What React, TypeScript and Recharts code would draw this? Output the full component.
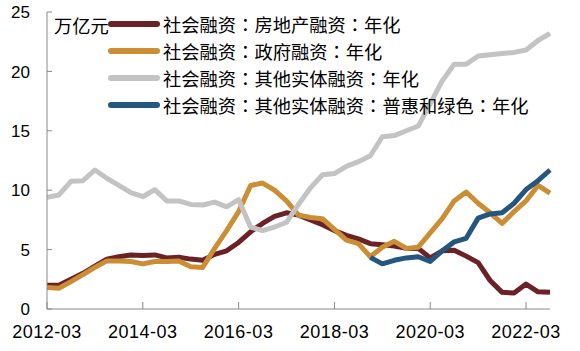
import { LineChart, Line, XAxis, YAxis } from 'recharts';

const quarters = [
  '2012-03', '2012-06', '2012-09', '2012-12',
  '2013-03', '2013-06', '2013-09', '2013-12',
  '2014-03', '2014-06', '2014-09', '2014-12',
  '2015-03', '2015-06', '2015-09', '2015-12',
  '2016-03', '2016-06', '2016-09', '2016-12',
  '2017-03', '2017-06', '2017-09', '2017-12',
  '2018-03', '2018-06', '2018-09', '2018-12',
  '2019-03', '2019-06', '2019-09', '2019-12',
  '2020-03', '2020-06', '2020-09', '2020-12',
  '2021-03', '2021-06', '2021-09', '2021-12',
  '2022-03', '2022-06', '2022-09',
];

// 万亿元，年化
const realEstate = [
  2.0, 2.0, 2.5, 3.0, 3.6, 4.2, 4.4, 4.55, 4.5, 4.55, 4.3, 4.35, 4.2, 4.1,
  4.6, 4.9, 5.6, 6.5, 7.2, 7.8, 8.1, 7.9, 7.5, 7.1, 6.6, 6.2, 5.9, 5.5,
  5.4, 5.3, 5.1, 5.1, 4.3, 4.9, 4.95, 4.45, 3.9, 2.4, 1.4, 1.35, 2.1, 1.45, 1.4,
];
const government = [
  1.8, 1.75, 2.3, 2.9, 3.5, 4.05, 4.05, 4.0, 3.8, 4.0, 4.0, 4.05, 3.55, 3.5,
  5.1, 6.6, 8.2, 10.4, 10.6, 10.0, 9.1, 7.9, 7.7, 7.6, 6.7, 5.8, 5.5, 4.4,
  5.2, 5.7, 5.1, 5.2, 6.4, 7.6, 9.1, 9.85, 8.9, 8.1, 7.2, 8.2, 9.1, 10.4, 9.75,
];
const otherReal = [
  9.4, 9.6, 10.75, 10.8, 11.7, 11.0, 10.4, 9.8, 9.45, 10.05, 9.1, 9.1, 8.8, 8.75,
  9.0, 8.6, 9.2, 6.9, 6.6, 6.9, 7.3, 8.8, 10.2, 11.3, 11.4, 12.0, 12.4, 12.9,
  14.5, 14.6, 15.0, 15.4, 17.3, 19.2, 20.6, 20.6, 21.3, 21.4, 21.5, 21.6, 21.8, 22.6, 23.2,
];
const inclusiveGreen = [
  null, null, null, null, null, null, null, null, null, null, null, null, null, null,
  null, null, null, null, null, null, null, null, null, null, null, null, null, 4.35,
  3.8, 4.1, 4.3, 4.4, 4.0, 4.9, 5.65, 5.95, 7.65, 8.0, 8.1, 8.9, 10.05, 10.8, 11.7,
];

const yTicks = [0, 5, 10, 15, 20, 25];

const series = [
  { key: 'realEstate', name: '社会融资：房地产融资：年化', color: '#6a2226' },
  { key: 'government', name: '社会融资：政府融资：年化', color: '#cc8e35' },
  { key: 'otherReal', name: '社会融资：其他实体融资：年化', color: '#c3c3c3' },
  { key: 'inclusiveGreen', name: '社会融资：其他实体融资：普惠和绿色：年化', color: '#24567f' },
];

const data = quarters.map((q, i) => ({
  q,
  realEstate: realEstate[i],
  government: government[i],
  otherReal: otherReal[i],
  inclusiveGreen: inclusiveGreen[i],
}));

const AXIS = '#898989';
const NUM_FONT = '"Liberation Sans", Arial, sans-serif';
const CJK_FONT = '"Noto Sans CJK SC", "Noto Sans", sans-serif';
// TC centres the full-width colon, like the original
const COLON_FONT = '"Noto Sans CJK TC", "Noto Sans CJK SC", sans-serif';

function XTick({ x, y, payload }: any) {
  return (
    <g>
      <line x1={x} x2={x} y1={y} y2={y - 7} stroke={AXIS} />
      <text x={x} y={y + 29} textAnchor="middle" fontSize={18} fill="#000" fontFamily={NUM_FONT} letterSpacing={0.5}>
        {payload.value}
      </text>
    </g>
  );
}

function YTick({ x, y, payload }: any) {
  return (
    <g>
      <line x1={x} x2={x + 5} y1={y} y2={y} stroke={AXIS} />
      <text x={x - 17} y={y} dy="0.36em" textAnchor="end" fontSize={17} fill="#000" fontFamily={NUM_FONT}>
        {payload.value}
      </text>
    </g>
  );
}

function LegendText({ name }: { name: string }) {
  const parts = name.split('：');
  return (
    <span style={{ fontSize: 18.3, lineHeight: '27px', fontFamily: CJK_FONT, color: '#000' }}>
      {parts.map((p, i) => (
        <span key={i}>
          {i > 0 && <span style={{ fontFamily: COLON_FONT }}>：</span>}
          {p}
        </span>
      ))}
    </span>
  );
}

export default function App() {
  return (
    <div style={{ position: 'absolute', left: 0, top: 0, width: 580, height: 351, background: '#fff' }}>
      <LineChart width={580} height={351} data={data} margin={{ top: 12, right: 30, bottom: 12, left: 7 }}>
        <XAxis
          dataKey="q"
          interval={7}
          height={30}
          tickSize={0}
          tickMargin={0}
          tickLine={false}
          axisLine={{ stroke: AXIS }}
          tick={(p: any) => <XTick {...p} />}
        />
        <YAxis
          domain={[0, 25]}
          ticks={yTicks}
          interval={0}
          width={40}
          tickSize={0}
          tickMargin={0}
          tickLine={false}
          axisLine={{ stroke: AXIS }}
          tick={(p: any) => <YTick {...p} />}
        />
        {series.map((s) => (
          <Line
            key={s.key}
            type="linear"
            dataKey={s.key}
            name={s.name}
            stroke={s.color}
            strokeWidth={5}
            strokeLinejoin="round"
            dot={false}
            activeDot={false}
            isAnimationActive={false}
          />
        ))}
      </LineChart>

      <div
        style={{
          position: 'absolute', left: 54, top: 12, height: 27, lineHeight: '27px',
          fontSize: 18.3, fontFamily: CJK_FONT, color: '#000',
        }}
      >
        万亿元
      </div>
      {series.map((s, k) => (
        <div
          key={s.key}
          style={{
            position: 'absolute', left: 108, top: 10.5 + 27 * k, height: 27,
            display: 'flex', alignItems: 'center', whiteSpace: 'nowrap',
          }}
        >
          <span style={{ width: 52, height: 6, borderRadius: 3, background: s.color, marginRight: 3 }} />
          <LegendText name={s.name} />
        </div>
      ))}
    </div>
  );
}
